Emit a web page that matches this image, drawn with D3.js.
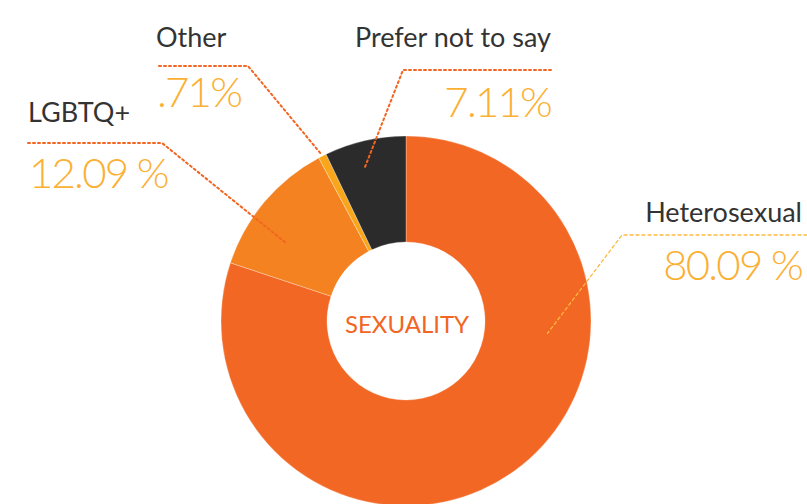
<!DOCTYPE html>
<html>
<head>
<meta charset="utf-8">
<script src="https://cdn.jsdelivr.net/npm/d3@7"></script>
<style>
  body { margin: 0; background: #fff; }
  svg { display: block; }
</style>
</head>
<body>
<svg width="807" height="504"></svg>
<script>
// Data
var categories = ["Heterosexual", "LGBTQ+", "Other", "Prefer not to say"];
var values = [80.09, 12.09, 0.71, 7.11];
var valueLabels = ["80.09 %", "12.09 %", ".71%", "7.11%"];
var colors = ["#f26724", "#f58220", "#f9a61b", "#2b2b2b"];

// Label layout: text anchor position, elbow of the leader, target point on the ring (deg, radius)
var labelLayout = [
    {anchor: "end",   x: 802, nameY: 222, valY: 280, lineY: 235, lineX0: 622, lineX1: 807, angle: 95,  r: 142, stroke: "#fbb940", dash: "3,3", width: 1.3},
    {anchor: "start", x: 28,  nameY: 122, valY: 188, lineY: 143, lineX0: 162, lineX1: 28,  angle: 303, r: 142, stroke: "#f26522", dash: "2,3", width: 2},
    {anchor: "start", x: 156, nameY: 47,  valY: 107, lineY: 66,  lineX0: 248, lineX1: 159, angle: 333, r: 188, stroke: "#f26522", dash: "2,3", width: 2},
    {anchor: "end",   x: 551, nameY: 47,  valY: 117, lineY: 70,  lineX0: 403, lineX1: 551, angle: 345, r: 159, stroke: "#f26522", dash: "2,3", width: 2}
];

var svg = d3.select("svg"),
    cx = 406,
    cy = 321,
    outerR = 185,
    innerR = 79;

var data = categories.map(function (c, i) {
    return {name: c, value: values[i], label: valueLabels[i], color: colors[i], layout: labelLayout[i]};
});

var pie = d3.pie()
    .sort(null)
    .value(function (d) { return d.value; });

var arc = d3.arc()
    .innerRadius(innerR)
    .outerRadius(outerR);

var g = svg.append("g")
    .attr("transform", "translate(" + cx + "," + cy + ")");

// Slices
g.selectAll("path.slice")
    .data(pie(data))
    .enter().append("path")
    .attr("class", "slice")
    .attr("d", arc)
    .attr("fill", function (d) { return d.data.color; })
    .attr("stroke", "#fff")
    .attr("stroke-width", 0.3);

// Centre title
g.append("text")
    .attr("x", 1)
    .attr("y", 2)
    .attr("text-anchor", "middle")
    .attr("dominant-baseline", "central")
    .style("font-family", "Lato, 'Noto Sans', sans-serif")
    .style("font-size", "24px")
    .style("fill", "#f26522")
    .text("SEXUALITY");

// Leader lines
function target(l) {
    var a = l.angle * Math.PI / 180;
    return [cx + l.r * Math.sin(a), cy - l.r * Math.cos(a)];
}

svg.selectAll("path.leader")
    .data(data)
    .enter().append("path")
    .attr("class", "leader")
    .attr("d", function (d) {
        var l = d.layout, t = target(l);
        return "M" + l.lineX1 + "," + l.lineY + "L" + l.lineX0 + "," + l.lineY + "L" + t[0] + "," + t[1];
    })
    .style("fill", "none")
    .style("stroke", function (d) { return d.layout.stroke; })
    .style("stroke-width", function (d) { return d.layout.width; })
    .style("stroke-dasharray", function (d) { return d.layout.dash; })
    .style("stroke-linecap", "round");

// Category names
svg.selectAll("text.name")
    .data(data)
    .enter().append("text")
    .attr("class", "name")
    .attr("x", function (d) { return d.layout.x; })
    .attr("y", function (d) { return d.layout.nameY; })
    .attr("text-anchor", function (d) { return d.layout.anchor; })
    .style("font-family", "Lato, 'Noto Sans', sans-serif")
    .style("font-size", "27px")
    .style("fill", "#333")
    .text(function (d) { return d.name; });

// Percentages
svg.selectAll("text.value")
    .data(data)
    .enter().append("text")
    .attr("class", "value")
    .attr("x", function (d) { return d.layout.x + (d.layout.anchor == "end" ? 0 : 1); })
    .attr("y", function (d) { return d.layout.valY; })
    .attr("text-anchor", function (d) { return d.layout.anchor; })
    .style("font-family", "Lato, 'Noto Sans', sans-serif")
    .style("font-weight", 300)
    .style("font-size", "42px")
    .style("letter-spacing", "-1.8px")
    .style("fill", "#fbb034")
    .text(function (d) { return d.label; });
</script>
</body>
</html>
